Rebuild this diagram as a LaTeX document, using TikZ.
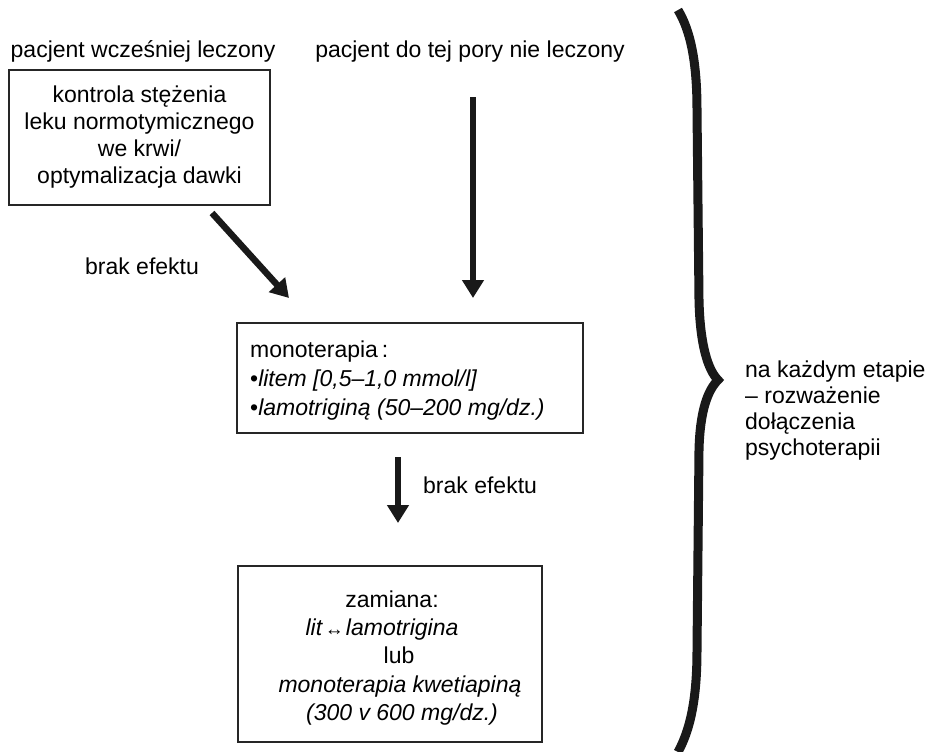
\documentclass[tikz,border=0pt]{standalone}
\usepackage{fontspec}
\setmainfont{Liberation Sans}
\usetikzlibrary{arrows.meta}
\begin{document}
\begin{tikzpicture}[x=1pt,y=-1pt,
  txt/.style={font=\fontsize{23}{27}\selectfont, inner sep=0pt},
  box/.style={draw=black!85, line width=1.6pt, inner sep=0pt},
  bigarrow/.style={draw=black!90, line width=6.5pt, -{Triangle[width=21pt,length=18pt]}},
]
\useasboundingbox (0,0) rectangle (926,752);
% headers
\node[txt, anchor=base] (h1) at (143,58) {pacjent wcześniej leczony};
\node[txt, anchor=base] (h2) at (470,58) {pacjent do tej pory nie leczony};
% box 1
\node[box, txt, minimum width=261pt, minimum height=135pt, align=center] (b1) at (139.5,137.5)
  {kontrola stężenia\\leku normotymicznego\\we krwi/\\optymalizacja dawki};
% box 2
\node[box, minimum width=346pt, minimum height=110pt] (b2) at (410,378) {};
\node[txt, font=\fontsize{23}{29}\selectfont, anchor=base west, align=left] (t2) at (250,415)
  {monoterapia\,:\\•\textit{litem [0,5–1,0 mmol/l]}\\•\textit{lamotriginą (50–200 mg/dz.)}};
% box 3
\node[box, minimum width=304pt, minimum height=176pt] (b3) at (390,654) {};
\node[txt, anchor=base] (t3a) at (392,607) {zamiana:};
\node[txt, anchor=base] (t3b) at (382,635) {\textit{lit}\kern2pt{\fontsize{19}{19}\selectfont ↔}\kern2pt\textit{lamotrigina}};
\node[txt, anchor=base] (t3c) at (399,663) {lub};
\node[txt, anchor=base] (t3d) at (400,692) {\textit{monoterapia kwetiapiną}};
\node[txt, anchor=base] (t3e) at (402,720) {\textit{(300 v 600 mg/dz.)}};
% arrows
\coordinate (a1s) at (212,213);
\coordinate (a1e) at (289,298);
\draw[bigarrow] (a1s) -- (a1e);
\coordinate (a2s) at (473,97);
\coordinate (a2e) at (473,298);
\draw[bigarrow] (a2s) -- (a2e);
\coordinate (a3s) at (398,457);
\coordinate (a3e) at (398,523);
\draw[bigarrow] (a3s) -- (a3e);
% labels
\node[txt, anchor=base] (l1) at (142,274) {brak efektu};
\node[txt, anchor=base west] (l2) at (423,493) {brak efektu};
% brace
\coordinate (brtop) at (678,10);
\coordinate (brtip) at (718,380);
\coordinate (brbot) at (678,752);
\draw[black!90, line width=9pt, line join=miter, miter limit=20]
  (brtop) .. controls (690,30) and (697,60) .. (697,110)
  -- (699,300) .. controls (700,345) and (708,370) .. (brtip)
  .. controls (708,390) and (700,410) .. (699,450)
  -- (697,650) .. controls (697,700) and (690,730) .. (brbot);
% side text
\node[txt, font=\fontsize{23}{26}\selectfont, anchor=base west, align=left] (side) at (745,455)
  {na każdym etapie\\– rozważenie\\dołączenia\\psychoterapii};
\end{tikzpicture}
\end{document}
